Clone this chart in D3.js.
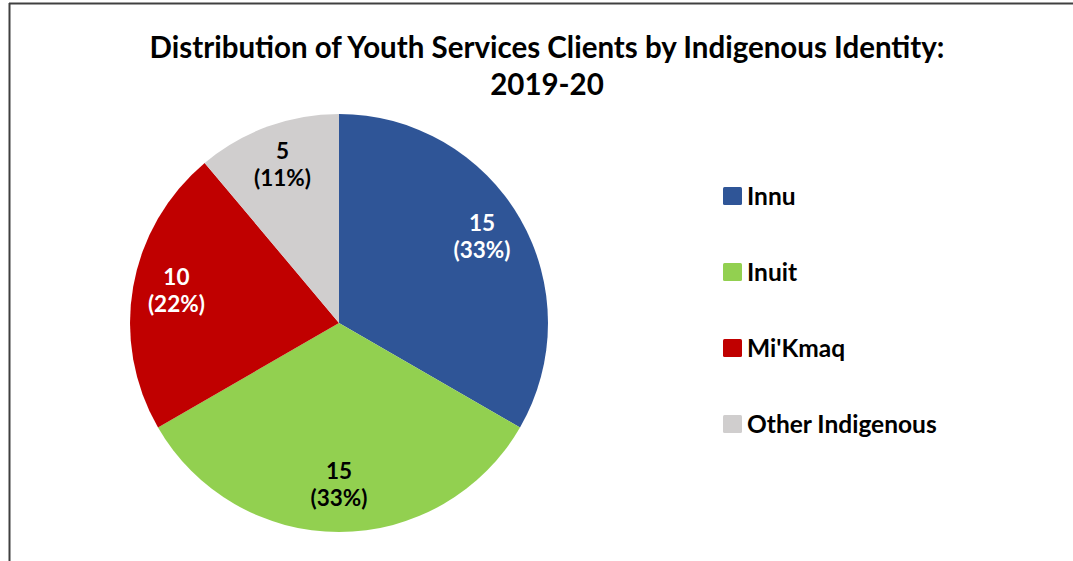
<!DOCTYPE html>
<html>
<head>
<meta charset="utf-8">
<script src="https://cdn.jsdelivr.net/npm/d3@7"></script>
<style>
  html, body { margin: 0; padding: 0; background: #fff; }
  text { font-family: Lato, "Open Sans", sans-serif; font-weight: bold; }
</style>
</head>
<body>
<div id="chart"></div>
<script>
const categories = ["Innu", "Inuit", "Mi'Kmaq", "Other Indigenous"];
const values = [15, 15, 10, 5];
const colors = ["#2F5597", "#92D050", "#C00000", "#D0CECE"];
const labelColors = ["#fff", "#000", "#fff", "#000"];
const titleLines = ["Distribution of Youth Services Clients by Indigenous Identity:", "2019-20"];

const width = 1073, height = 561;
const cx = 339, cy = 323, radius = 209;

const svg = d3.select('#chart')
    .append('svg')
    .attr('width', width)
    .attr('height', height);

// chart frame (only top and left edges visible)
svg.append('line')
    .attr('x1', 9).attr('x2', width)
    .attr('y1', 3.5).attr('y2', 3.5)
    .attr('stroke', '#404040').attr('stroke-width', 2);
svg.append('line')
    .attr('x1', 9.5).attr('x2', 9.5)
    .attr('y1', 3).attr('y2', height)
    .attr('stroke', '#404040').attr('stroke-width', 2);

// title
svg.append('g')
    .selectAll('text')
    .data(titleLines)
    .enter()
    .append('text')
    .attr('x', 547)
    .attr('y', (d, i) => 58 + i * 37)
    .attr('text-anchor', 'middle')
    .style('font-size', '29.5px')
    .attr('fill', '#000')
    .text(d => d);

const total = d3.sum(values);
const pie = d3.pie().sort(null).value(d => d)(values);
const arc = d3.arc().innerRadius(0).outerRadius(radius);
const labelArc = d3.arc().innerRadius(radius * 0.79).outerRadius(radius * 0.79);

const g = svg.append('g').attr('transform', `translate(${cx}, ${cy})`);

g.selectAll('path')
    .data(pie)
    .enter()
    .append('path')
    .attr('d', arc)
    .attr('fill', (d, i) => colors[i]);

// data labels: value and percentage
const labels = g.selectAll('.lbl')
    .data(pie)
    .enter()
    .append('text')
    .attr('class', 'lbl')
    .attr('text-anchor', 'middle')
    .attr('transform', d => `translate(${labelArc.centroid(d)})`)
    .style('font-size', '22.5px')
    .attr('fill', (d, i) => labelColors[i]);
labels.append('tspan')
    .attr('x', 0).attr('y', -9)
    .text(d => d.value);
labels.append('tspan')
    .attr('x', 0).attr('y', 18)
    .text(d => `(${Math.round(d.value / total * 100)}%)`);

// legend
const legend = svg.append('g')
    .selectAll('.legend')
    .data(categories)
    .enter()
    .append('g')
    .attr('class', 'legend')
    .attr('transform', (d, i) => `translate(723, ${196 + i * 76})`);
legend.append('rect')
    .attr('x', 0).attr('y', -9)
    .attr('width', 19).attr('height', 18)
    .attr('rx', 1.5)
    .attr('fill', (d, i) => colors[i]);
legend.append('text')
    .attr('x', 24).attr('y', 9)
    .style('font-size', '24.5px')
    .attr('fill', '#000')
    .text(d => d);
</script>
</body>
</html>
